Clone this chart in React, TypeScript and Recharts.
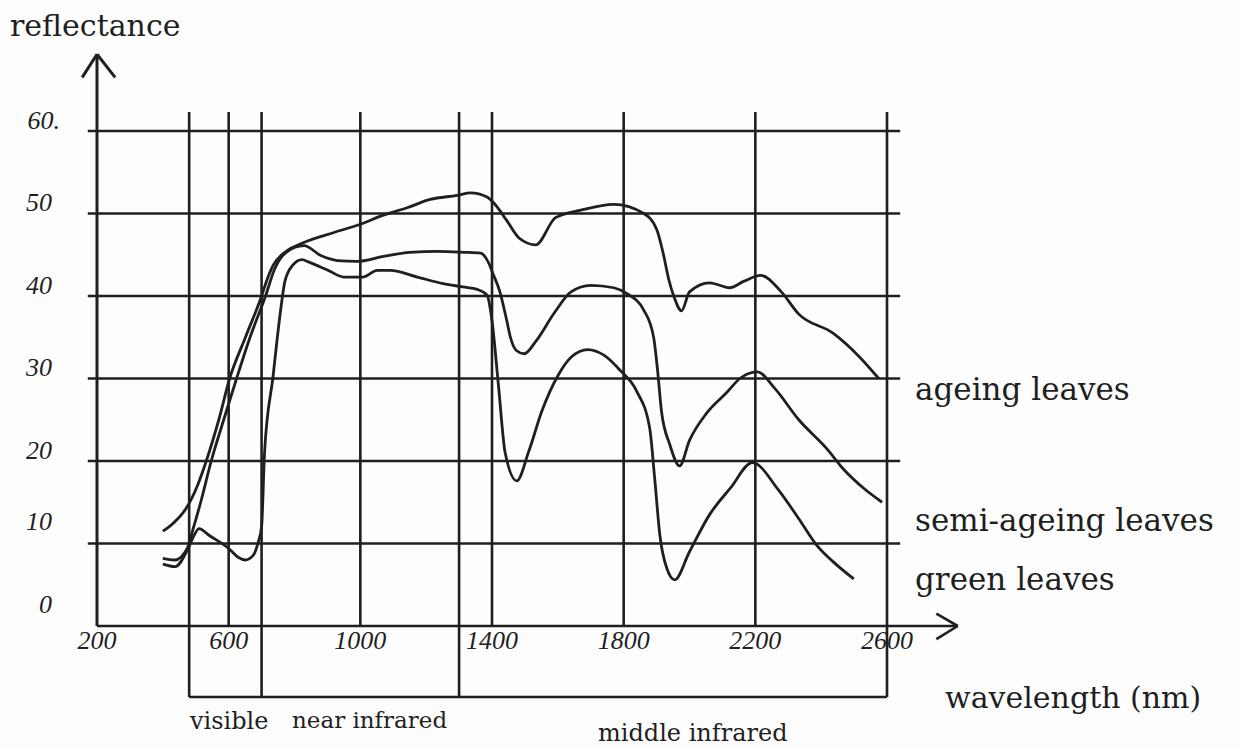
import { LineChart, Line, XAxis, YAxis, ReferenceLine } from 'recharts';

const X_TICKS = [200, 600, 1000, 1400, 1800, 2200, 2600];
const Y_TICKS = [0, 10, 20, 30, 40, 50, 60];
const GRID_X = [480, 600, 700, 1000, 1300, 1400, 1800, 2200, 2600];
const GRID_Y = [10, 20, 30, 40, 50, 60];
// verticals that run down into the band bracket under the axis
const BAND_EDGES = [480, 700, 1300, 2600];

// [wavelength nm, reflectance]
const AGEING: [number, number][] = [
  [400, 11.5], [430, 12.4], [470, 14.2], [505, 17], [532, 20], [570, 25], [603, 30],
  [651, 35], [700, 40], [715, 41.8], [735, 43.7], [774, 45.4], [823, 46.4], [920, 47.7],
  [1000, 48.7], [1070, 49.8], [1142, 50.7], [1212, 51.7], [1294, 52.2], [1335, 52.5],
  [1385, 52], [1405, 51.3], [1444, 49.2], [1483, 47], [1533, 46.2], [1593, 49.5],
  [1670, 50.4], [1770, 51.1], [1861, 50], [1901, 48], [1921, 45], [1937, 42], [1952, 40],
  [1976, 38.2], [2000, 40.5], [2061, 41.6], [2122, 41], [2166, 41.8], [2216, 42.5],
  [2279, 40.5], [2332, 37.8], [2436, 35.5], [2512, 32.8], [2575, 30],
];

const SEMI_AGEING: [number, number][] = [
  [400, 8.2], [437, 8], [474, 9.4], [490, 11.5], [515, 15], [547, 20], [585, 25],
  [624, 30], [665, 35], [712, 40], [740, 43.3], [775, 45.3], [829, 46.1], [880, 44.9],
  [930, 44.3], [990, 44.2], [1070, 44.8], [1150, 45.3], [1235, 45.4], [1315, 45.3],
  [1365, 45.2], [1390, 44], [1402, 42.8], [1424, 40.5], [1445, 37], [1456, 35],
  [1474, 33.4], [1498, 33], [1533, 34.5], [1590, 38], [1640, 40.5], [1700, 41.3],
  [1770, 41], [1809, 40.3], [1861, 38.3], [1891, 35], [1903, 31], [1915, 26],
  [1940, 22], [1970, 19.4], [2000, 22.5], [2052, 25.8], [2113, 28.3], [2153, 30],
  [2206, 30.8], [2259, 28.8], [2332, 25], [2417, 21.5], [2468, 19], [2532, 16.6],
  [2585, 15],
];

const GREEN: [number, number][] = [
  [400, 7.5], [437, 7.2], [477, 9.4], [495, 11], [510, 11.8], [540, 11], [600, 9.4],
  [630, 8.3], [650, 8], [675, 8.6], [690, 10.2], [700, 12], [709, 21], [735, 30.3],
  [756, 37.7], [771, 41.8], [794, 43.7], [823, 44.4], [844, 44.1], [903, 43.1],
  [950, 42.3], [1009, 42.3], [1051, 43.1], [1091, 43.1], [1173, 42.3], [1252, 41.5],
  [1312, 41.1], [1355, 40.8], [1385, 40.1], [1400, 37], [1420, 29], [1440, 21],
  [1475, 17.6], [1512, 21.2], [1551, 26], [1601, 30.4], [1641, 32.6], [1691, 33.5],
  [1741, 32.8], [1789, 31], [1839, 28.5], [1879, 24], [1894, 18], [1910, 11],
  [1931, 7], [1955, 5.6], [2000, 9], [2061, 13.5], [2124, 16.7], [2191, 19.8],
  [2270, 16.5], [2332, 13], [2386, 9.8], [2436, 7.8], [2499, 5.7],
];

const SERIES = [
  { key: 'ageing', label: 'ageing leaves', points: AGEING },
  { key: 'semi', label: 'semi-ageing leaves', points: SEMI_AGEING },
  { key: 'green', label: 'green leaves', points: GREEN },
];

const INK = '#1f1f1f';
const SERIF = '"DejaVu Serif", serif';
const TICK_FONT = '"Liberation Serif", serif';

const toRows = (pts: [number, number][]) => pts.map(([nm, r]) => ({ nm, r }));

const seg = (x1: number, y1: number, x2: number, y2: number, key: string, w = 2.6) => (
  <ReferenceLine
    key={key}
    segment={[{ x: x1, y: y1 }, { x: x2, y: y2 }]}
    stroke={INK}
    strokeWidth={w}
    ifOverflow="visible"
  />
);

const txt = (s: string, left: number, top: number, size: number) => (
  <div
    key={s}
    style={{
      position: 'absolute', left, top, fontSize: size, fontFamily: SERIF,
      color: INK, lineHeight: 1, whiteSpace: 'nowrap',
    }}
  >
    {s}
  </div>
);

// y labels sit a little above their lines, the two lowest ones more so
const YTick = ({ x, y, payload }: any) => (
  <text
    x={x + (payload.value === 60 ? 8 : 0)}
    y={y + (payload.value <= 10 ? -19 : -8)}
    textAnchor="end"
    dominantBaseline="middle"
    fill={INK}
    fontSize={26}
    fontStyle="italic"
    fontFamily={TICK_FONT}
  >
    {payload.value === 60 ? '60.' : payload.value}
  </text>
);

export default function App() {
  return (
    <div style={{ position: 'absolute', left: 0, top: 0, width: 1242, height: 748, background: '#fdfdfd', overflow: 'hidden' }}>
      <LineChart width={1242} height={748} margin={{ top: 131, right: 355, bottom: 92, left: 37 }}>
        <XAxis
          type="number"
          dataKey="nm"
          domain={[200, 2600]}
          ticks={X_TICKS}
          axisLine={false}
          tickLine={false}
          tickSize={0}
          tickMargin={5}
          height={30}
          tick={{ fill: INK, fontSize: 26, fontStyle: 'italic', fontFamily: TICK_FONT }}
        />
        <YAxis
          type="number"
          domain={[0, 60]}
          ticks={Y_TICKS}
          axisLine={false}
          tickLine={false}
          tickSize={0}
          tickMargin={45}
          width={60}
          tick={YTick}
        />

        {GRID_Y.map((v) => seg(172, v, 2640, v, `h${v}`))}
        {GRID_X.map((v) => seg(v, BAND_EDGES.includes(v) ? -8.6 : 0, v, 62.3, `v${v}`))}
        {seg(480, -8.6, 2600, -8.6, 'bracket')}

        {/* axes with arrow heads */}
        {seg(200, 0, 2815, 0, 'xaxis')}
        {seg(2750, 1.5, 2815, 0, 'xarrow1')}
        {seg(2750, -1.6, 2815, 0, 'xarrow2')}
        {seg(200, 0, 200, 69.3, 'yaxis', 3)}
        {seg(155, 66.5, 200, 69.3, 'yarrow1', 3)}
        {seg(255, 66.5, 200, 69.3, 'yarrow2', 3)}

        {SERIES.map((s) => (
          <Line
            key={s.key}
            name={s.label}
            data={toRows(s.points)}
            dataKey="r"
            type="monotone"
            stroke={INK}
            strokeWidth={2.8}
            dot={false}
            activeDot={false}
            isAnimationActive={false}
          />
        ))}
      </LineChart>

      {txt('reflectance', 10, 11, 30)}
      {txt(SERIES[0].label, 915, 374, 31)}
      {txt(SERIES[1].label, 915, 505, 31)}
      {txt(SERIES[2].label, 915, 564, 31)}
      {txt('wavelength (nm)', 945, 683, 30)}
      {txt('visible', 190, 709, 24)}
      {txt('near infrared', 292, 709, 23)}
      {txt('middle infrared', 598, 721, 24)}
    </div>
  );
}
